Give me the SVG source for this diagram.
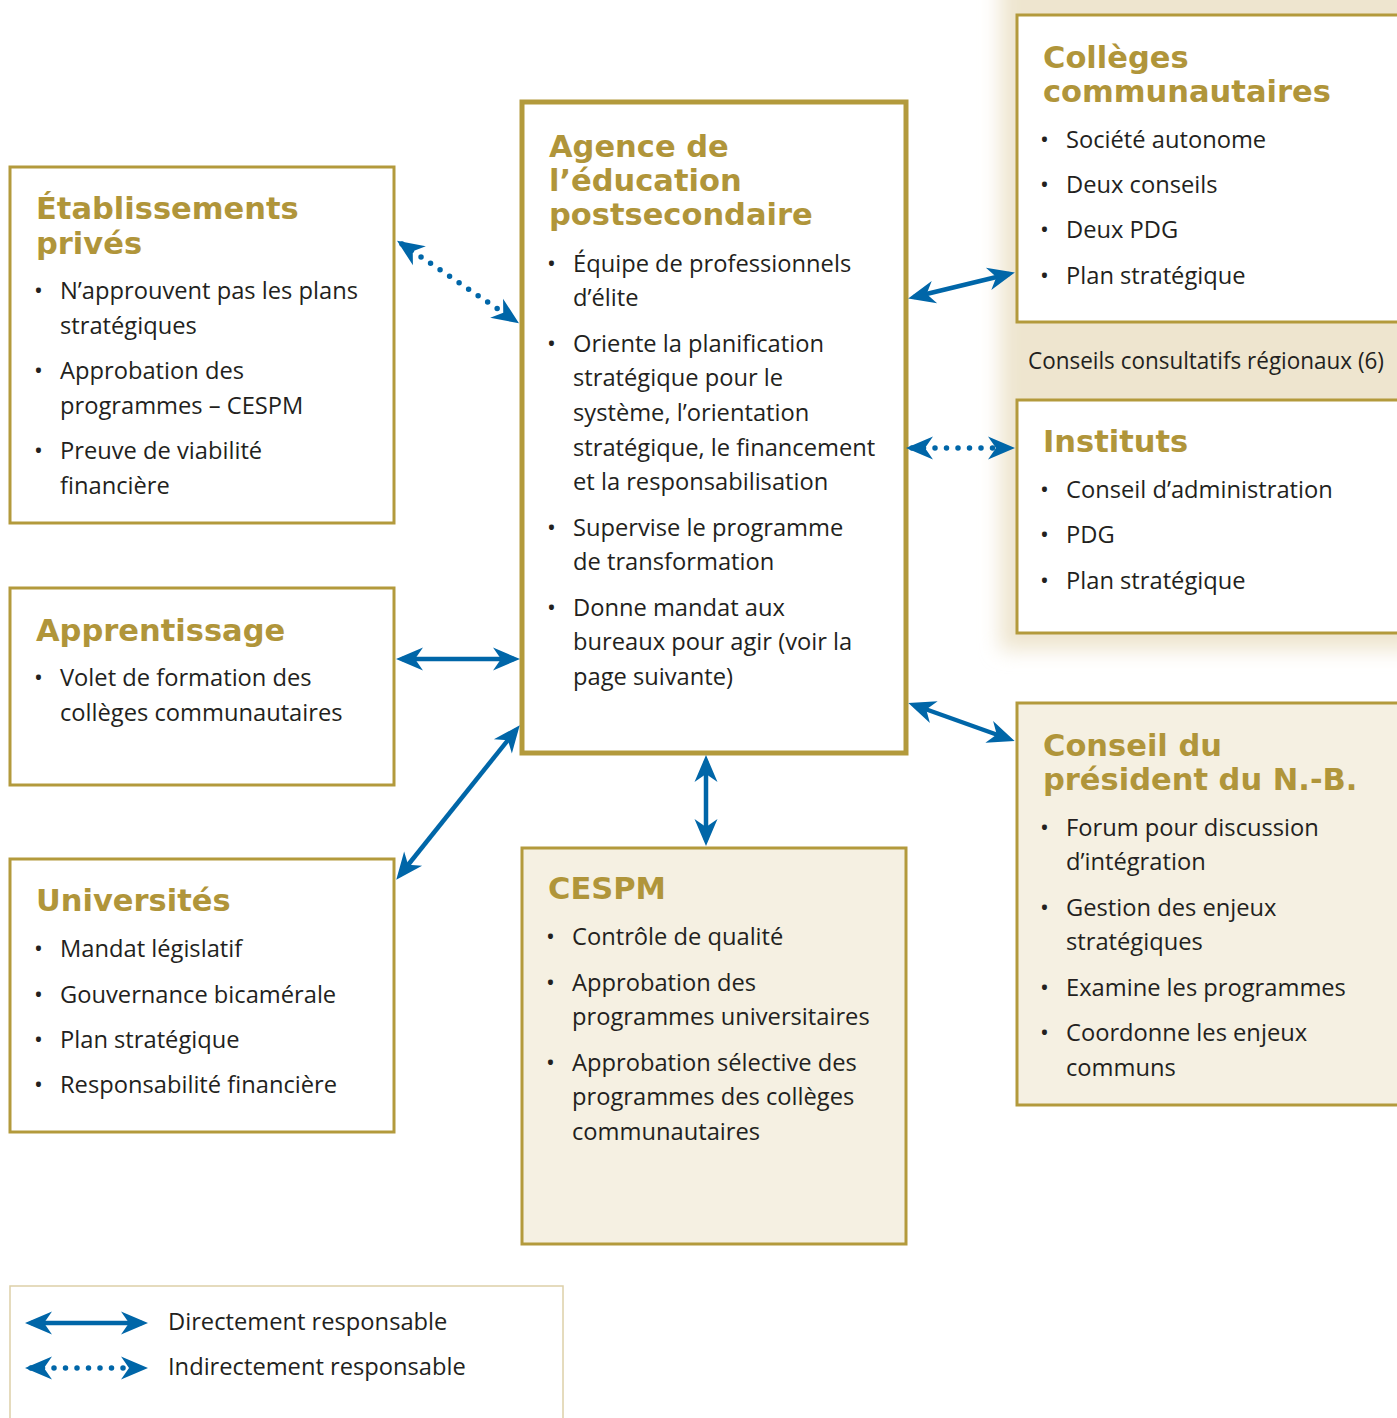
<svg xmlns="http://www.w3.org/2000/svg" width="1397" height="1418" viewBox="0 0 1397 1418">
<style>
.box{fill:#fff;stroke:#B39A3C;stroke-width:3}
.fbox{fill:#F5F0E2;stroke:#B39A3C;stroke-width:3}
.t{font-family:"DejaVu Sans",sans-serif;font-weight:bold;font-size:30.5px;fill:#B0953A}
.b{font-family:"Open Sans","Noto Sans",sans-serif;font-size:23.7px;fill:#231F20}
.s{stroke:#0066A8;stroke-width:4.5;fill:none;marker-start:url(#ah);marker-end:url(#ah)}
.d{stroke:#0066A8;stroke-width:5.5;fill:none;stroke-linecap:round;stroke-dasharray:0 11.5;marker-start:url(#ah);marker-end:url(#ah)}
</style>
<defs>
<marker id="ah" viewBox="-24 -13 32 26" refX="0" refY="0" markerWidth="32" markerHeight="26" markerUnits="userSpaceOnUse" orient="auto-start-reverse">
<path d="M6,0 L-21,-11.5 L-13,0 L-21,11.5 Z" fill="#0066A8"/>
</marker>
<filter id="blur" x="-20%" y="-20%" width="140%" height="140%"><feGaussianBlur stdDeviation="10"/></filter>
</defs>
<rect width="1397" height="1418" fill="#fff"/>
<rect x="1000" y="-40" width="460" height="690" fill="#EEE5CF" filter="url(#blur)"/>

<g id="etablissements">
<rect class="box" x="10" y="167" width="384" height="356"/>
<text class="t" x="36" y="219">Établissements</text>
<text class="t" x="36" y="254">privés</text>
<g class="b">
<text x="34" y="299">•</text><text x="60" y="299">N’approuvent pas les plans</text>
<text x="60" y="334">stratégiques</text>
<text x="34" y="379">•</text><text x="60" y="379">Approbation des</text>
<text x="60" y="414">programmes – CESPM</text>
<text x="34" y="459">•</text><text x="60" y="459">Preuve de viabilité</text>
<text x="60" y="494">financière</text>
</g>
</g>

<g id="apprentissage">
<rect class="box" x="10" y="588" width="384" height="197"/>
<text class="t" x="36" y="641">Apprentissage</text>
<g class="b">
<text x="34" y="686">•</text><text x="60" y="686">Volet de formation des</text>
<text x="60" y="721">collèges communautaires</text>
</g>
</g>

<g id="universites">
<rect class="box" x="10" y="859" width="384" height="273"/>
<text class="t" x="36" y="911">Universités</text>
<g class="b">
<text x="34" y="957">•</text><text x="60" y="957">Mandat législatif</text>
<text x="34" y="1003">•</text><text x="60" y="1003">Gouvernance bicamérale</text>
<text x="34" y="1048">•</text><text x="60" y="1048">Plan stratégique</text>
<text x="34" y="1093">•</text><text x="60" y="1093">Responsabilité financière</text>
</g>
</g>

<g id="agence">
<rect x="522" y="102" width="384" height="651" fill="#fff" stroke="#B39A3C" stroke-width="5"/>
<text class="t" x="549" y="157">Agence de</text>
<text class="t" x="549" y="191">l’éducation</text>
<text class="t" x="549" y="225">postsecondaire</text>
<g class="b">
<text x="547" y="272">•</text><text x="573" y="272">Équipe de professionnels</text>
<text x="573" y="306">d’élite</text>
<text x="547" y="352">•</text><text x="573" y="352">Oriente la planification</text>
<text x="573" y="386">stratégique pour le</text>
<text x="573" y="421">système, l’orientation</text>
<text x="573" y="456">stratégique, le financement</text>
<text x="573" y="490">et la responsabilisation</text>
<text x="547" y="536">•</text><text x="573" y="536">Supervise le programme</text>
<text x="573" y="570">de transformation</text>
<text x="547" y="616">•</text><text x="573" y="616">Donne mandat aux</text>
<text x="573" y="650">bureaux pour agir (voir la</text>
<text x="573" y="685">page suivante)</text>
</g>
</g>

<g id="cespm">
<rect class="fbox" x="522" y="848" width="384" height="396"/>
<text class="t" x="548" y="899">CESPM</text>
<g class="b">
<text x="546" y="945">•</text><text x="572" y="945">Contrôle de qualité</text>
<text x="546" y="991">•</text><text x="572" y="991">Approbation des</text>
<text x="572" y="1025">programmes universitaires</text>
<text x="546" y="1071">•</text><text x="572" y="1071">Approbation sélective des</text>
<text x="572" y="1105">programmes des collèges</text>
<text x="572" y="1140">communautaires</text>
</g>
</g>

<g id="colleges">
<rect class="box" x="1017" y="15" width="400" height="307"/>
<text class="t" x="1043" y="68">Collèges</text>
<text class="t" x="1043" y="102">communautaires</text>
<g class="b">
<text x="1040" y="148">•</text><text x="1066" y="148">Société autonome</text>
<text x="1040" y="193">•</text><text x="1066" y="193">Deux conseils</text>
<text x="1040" y="238">•</text><text x="1066" y="238">Deux PDG</text>
<text x="1040" y="284">•</text><text x="1066" y="284">Plan stratégique</text>
</g>
</g>

<g id="conseils-consultatifs">
<text class="b" x="1028" y="369" textLength="356" lengthAdjust="spacingAndGlyphs">Conseils consultatifs régionaux (6)</text>
</g>

<g id="instituts">
<rect class="box" x="1017" y="400" width="400" height="233"/>
<text class="t" x="1043" y="452">Instituts</text>
<g class="b">
<text x="1040" y="498">•</text><text x="1066" y="498">Conseil d’administration</text>
<text x="1040" y="543">•</text><text x="1066" y="543">PDG</text>
<text x="1040" y="589">•</text><text x="1066" y="589">Plan stratégique</text>
</g>
</g>

<g id="conseil-president">
<rect class="fbox" x="1017" y="703" width="400" height="402"/>
<text class="t" x="1043" y="756">Conseil du</text>
<text class="t" x="1043" y="790">président du N.-B.</text>
<g class="b">
<text x="1040" y="836">•</text><text x="1066" y="836">Forum pour discussion</text>
<text x="1066" y="870">d’intégration</text>
<text x="1040" y="916">•</text><text x="1066" y="916">Gestion des enjeux</text>
<text x="1066" y="950">stratégiques</text>
<text x="1040" y="996">•</text><text x="1066" y="996">Examine les programmes</text>
<text x="1040" y="1041">•</text><text x="1066" y="1041">Coordonne les enjeux</text>
<text x="1066" y="1076">communs</text>
</g>
</g>

<g id="connectors">
<path class="d" d="M402,244 L514,320"/>
<path class="s" d="M914,297 L1009,274"/>
<path class="d" d="M912,448 L1009,448"/>
<path class="s" d="M402,659 L514,659"/>
<path class="s" d="M400,875 L516,730"/>
<path class="s" d="M706,761 L706,840"/>
<path class="s" d="M914,705 L1009,739"/>
</g>

<g id="legend">
<rect x="10" y="1286" width="553" height="140" fill="#fff" stroke="#DDD0A8" stroke-width="1.5"/>
<path class="s" d="M31,1323 L142,1323"/>
<path class="d" d="M31,1368 L142,1368"/>
<text class="b" x="168" y="1330">Directement responsable</text>
<text class="b" x="168" y="1375">Indirectement responsable</text>
</g>
</svg>
